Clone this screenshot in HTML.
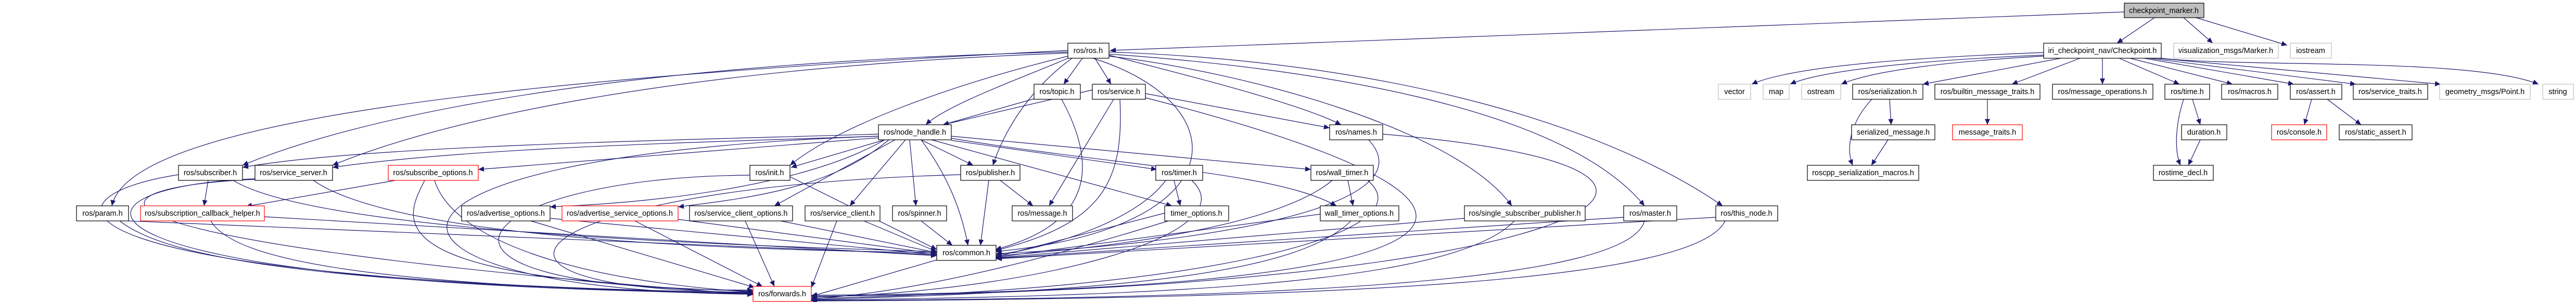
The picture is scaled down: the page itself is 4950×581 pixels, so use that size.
<!DOCTYPE html>
<html><head><meta charset="utf-8"><style>
html,body{margin:0;padding:0;background:#fff;}
svg{display:block;}
text{font-family:"Liberation Sans",sans-serif;font-size:14.5px;fill:#000;}
</style></head><body>
<svg id="g" width="4950" height="581" viewBox="0 0 4950 581" xmlns="http://www.w3.org/2000/svg">
<defs><marker id="a" markerUnits="userSpaceOnUse" markerWidth="12" markerHeight="10" refX="11" refY="5" orient="auto"><path d="M0,0 L11,5 L0,10 z" fill="#191970"/></marker></defs>
<g id="edges" fill="none" stroke="#191970" stroke-width="1.2"></g>
<g id="nodes" stroke-width="1.2">
<rect x="4082" y="6" width="153" height="28" fill="#bfbfbf" stroke="#000"/><text x="4158" y="25" text-anchor="middle">checkpoint_marker.h</text>
<rect x="3927" y="83" width="226" height="29" fill="#fff" stroke="#000"/><text x="4040" y="102" text-anchor="middle">iri_checkpoint_nav/Checkpoint.h</text>
<rect x="4177" y="83" width="201" height="29" fill="#fff" stroke="#bfbfbf"/><text x="4277" y="102" text-anchor="middle">visualization_msgs/Marker.h</text>
<rect x="4401" y="83" width="79" height="29" fill="#fff" stroke="#bfbfbf"/><text x="4440" y="102" text-anchor="middle">iostream</text>
<rect x="3302" y="162" width="62" height="29" fill="#fff" stroke="#bfbfbf"/><text x="3333" y="181" text-anchor="middle">vector</text>
<rect x="3388" y="162" width="50" height="29" fill="#fff" stroke="#bfbfbf"/><text x="3413" y="181" text-anchor="middle">map</text>
<rect x="3462" y="162" width="75" height="29" fill="#fff" stroke="#bfbfbf"/><text x="3499" y="181" text-anchor="middle">ostream</text>
<rect x="3560" y="162" width="135" height="29" fill="#fff" stroke="#000"/><text x="3627" y="181" text-anchor="middle">ros/serialization.h</text>
<rect x="3718" y="162" width="202" height="29" fill="#fff" stroke="#000"/><text x="3819" y="181" text-anchor="middle">ros/builtin_message_traits.h</text>
<rect x="3944" y="162" width="193" height="29" fill="#fff" stroke="#000"/><text x="4040" y="181" text-anchor="middle">ros/message_operations.h</text>
<rect x="4160" y="162" width="86" height="29" fill="#fff" stroke="#000"/><text x="4203" y="181" text-anchor="middle">ros/time.h</text>
<rect x="4269" y="162" width="108" height="29" fill="#fff" stroke="#000"/><text x="4323" y="181" text-anchor="middle">ros/macros.h</text>
<rect x="4401" y="162" width="99" height="29" fill="#fff" stroke="#000"/><text x="4450" y="181" text-anchor="middle">ros/assert.h</text>
<rect x="4522" y="162" width="143" height="29" fill="#fff" stroke="#000"/><text x="4593" y="181" text-anchor="middle">ros/service_traits.h</text>
<rect x="4688" y="162" width="174" height="29" fill="#fff" stroke="#bfbfbf"/><text x="4775" y="181" text-anchor="middle">geometry_msgs/Point.h</text>
<rect x="4886" y="162" width="59" height="29" fill="#fff" stroke="#bfbfbf"/><text x="4915" y="181" text-anchor="middle">string</text>
<rect x="3558" y="240" width="160" height="29" fill="#fff" stroke="#000"/><text x="3638" y="259" text-anchor="middle">serialized_message.h</text>
<rect x="3752" y="240" width="134" height="29" fill="#fff" stroke="#ff0000"/><text x="3819" y="259" text-anchor="middle">message_traits.h</text>
<rect x="4192" y="240" width="87" height="29" fill="#fff" stroke="#000"/><text x="4235" y="259" text-anchor="middle">duration.h</text>
<rect x="4365" y="240" width="106" height="29" fill="#fff" stroke="#ff0000"/><text x="4418" y="259" text-anchor="middle">ros/console.h</text>
<rect x="4495" y="240" width="140" height="29" fill="#fff" stroke="#000"/><text x="4565" y="259" text-anchor="middle">ros/static_assert.h</text>
<rect x="3473" y="318" width="214" height="29" fill="#fff" stroke="#000"/><text x="3580" y="337" text-anchor="middle">roscpp_serialization_macros.h</text>
<rect x="4138" y="318" width="115" height="29" fill="#fff" stroke="#000"/><text x="4195" y="337" text-anchor="middle">rostime_decl.h</text>
<rect x="2052" y="83" width="79" height="29" fill="#fff" stroke="#000"/><text x="2091" y="102" text-anchor="middle">ros/ros.h</text>
<rect x="1987" y="162" width="89" height="29" fill="#fff" stroke="#000"/><text x="2031" y="181" text-anchor="middle">ros/topic.h</text>
<rect x="2099" y="162" width="102" height="29" fill="#fff" stroke="#000"/><text x="2150" y="181" text-anchor="middle">ros/service.h</text>
<rect x="1688" y="240" width="140" height="29" fill="#fff" stroke="#000"/><text x="1758" y="259" text-anchor="middle">ros/node_handle.h</text>
<rect x="2555" y="240" width="102" height="29" fill="#fff" stroke="#000"/><text x="2606" y="259" text-anchor="middle">ros/names.h</text>
<rect x="343" y="318" width="123" height="29" fill="#fff" stroke="#000"/><text x="404" y="337" text-anchor="middle">ros/subscriber.h</text>
<rect x="490" y="318" width="149" height="29" fill="#fff" stroke="#000"/><text x="564" y="337" text-anchor="middle">ros/service_server.h</text>
<rect x="746" y="318" width="173" height="29" fill="#fff" stroke="#ff0000"/><text x="832" y="337" text-anchor="middle">ros/subscribe_options.h</text>
<rect x="1441" y="318" width="77" height="29" fill="#fff" stroke="#000"/><text x="1479" y="337" text-anchor="middle">ros/init.h</text>
<rect x="1846" y="318" width="114" height="29" fill="#fff" stroke="#000"/><text x="1903" y="337" text-anchor="middle">ros/publisher.h</text>
<rect x="2221" y="318" width="90" height="29" fill="#fff" stroke="#000"/><text x="2266" y="337" text-anchor="middle">ros/timer.h</text>
<rect x="2519" y="318" width="120" height="29" fill="#fff" stroke="#000"/><text x="2579" y="337" text-anchor="middle">ros/wall_timer.h</text>
<rect x="147" y="396" width="100" height="29" fill="#fff" stroke="#000"/><text x="197" y="415" text-anchor="middle">ros/param.h</text>
<rect x="270" y="396" width="238" height="29" fill="#fff" stroke="#ff0000"/><text x="389" y="415" text-anchor="middle">ros/subscription_callback_helper.h</text>
<rect x="887" y="396" width="170" height="29" fill="#fff" stroke="#000"/><text x="972" y="415" text-anchor="middle">ros/advertise_options.h</text>
<rect x="1080" y="396" width="223" height="29" fill="#fff" stroke="#ff0000"/><text x="1191" y="415" text-anchor="middle">ros/advertise_service_options.h</text>
<rect x="1325" y="396" width="198" height="29" fill="#fff" stroke="#000"/><text x="1424" y="415" text-anchor="middle">ros/service_client_options.h</text>
<rect x="1547" y="396" width="144" height="29" fill="#fff" stroke="#000"/><text x="1619" y="415" text-anchor="middle">ros/service_client.h</text>
<rect x="1715" y="396" width="104" height="29" fill="#fff" stroke="#000"/><text x="1767" y="415" text-anchor="middle">ros/spinner.h</text>
<rect x="1945" y="396" width="116" height="29" fill="#fff" stroke="#000"/><text x="2003" y="415" text-anchor="middle">ros/message.h</text>
<rect x="2238" y="396" width="123" height="29" fill="#fff" stroke="#000"/><text x="2299" y="415" text-anchor="middle">timer_options.h</text>
<rect x="2537" y="396" width="151" height="29" fill="#fff" stroke="#000"/><text x="2612" y="415" text-anchor="middle">wall_timer_options.h</text>
<rect x="2814" y="396" width="232" height="29" fill="#fff" stroke="#000"/><text x="2930" y="415" text-anchor="middle">ros/single_subscriber_publisher.h</text>
<rect x="3120" y="396" width="102" height="29" fill="#fff" stroke="#000"/><text x="3171" y="415" text-anchor="middle">ros/master.h</text>
<rect x="3297" y="396" width="119" height="29" fill="#fff" stroke="#000"/><text x="3356" y="415" text-anchor="middle">ros/this_node.h</text>
<rect x="1800" y="472" width="114" height="29" fill="#fff" stroke="#000"/><text x="1857" y="491" text-anchor="middle">ros/common.h</text>
<rect x="1447" y="551" width="112" height="29" fill="#fff" stroke="#ff0000"/><text x="1503" y="570" text-anchor="middle">ros/forwards.h</text>
</g>
</svg>
<script>
var E=[
[4140,34,4068,83],[4196,34,4252,83],[4220,34,4395,87],[4082,23,2133,97],
[3927,101,3366,162,3700,110,3450,125],[3927,106,3440,162,3700,115,3500,135],[3927,108,3538,162,3750,118,3600,135],
[3960,112,3695,162],[3997,112,3866,162],[4040,112,4040,162],[4072,112,4188,162],[4093,112,4290,162],[4120,112,4408,162],[4130,112,4527,162],[4145,112,4690,162],[4153,112,4878,162,4300,130,4750,110],
[3631,191,3634,240],[3597,191,3560,318,3560,230,3545,280],[3628,269,3596,318],[3819,191,3819,240],
[4213,191,4228,240],[4196,191,4190,318,4180,240,4178,290],[4228,269,4205,318],[4442,191,4428,240],[4472,191,4537,240],
[2080,112,2044,162],[2104,112,2135,162],[2052,112,1779,240,1990,140,1820,200],[2131,106,2577,240,2300,150,2500,200],
[2060,112,1908,318,1980,170,1930,250],[2052,100,466,318,1200,120,700,220],[2052,102,639,318,1300,130,850,230],
[2052,108,1518,318,1800,170,1600,250],[2052,97,215,396,1000,150,250,230],[2131,108,2905,396,2400,140,2800,250],
[2131,104,3160,396,2500,130,3000,200],[2131,100,3310,396,2700,120,3100,250],[2100,112,1913,484,2380,200,2380,440],
[2099,173,1812,240],[2201,180,2555,246],[2140,191,2016,396],[2152,191,1913,482,2160,350,2120,430],
[2201,188,1559,568,3100,420,2800,560],
[1987,190,1812,240],[2040,191,1913,480,2110,320,2100,430],
[1688,258,466,322,1300,270,700,280],[1688,262,639,322,1300,275,900,285],[1688,265,919,326],[1700,269,1520,322],
[1700,269,1057,398,1560,350,1300,388],[1708,269,1303,398,1600,360,1450,380],[1720,269,1488,396],[1740,269,1633,396],
[1748,269,1760,396],[1770,269,1870,318],[1828,270,2223,326],[1828,262,2519,326],[1790,269,2252,396],
[1828,266,2568,396,2150,320,2450,330],[1770,269,1860,472,1830,350,1850,420],[1688,262,1447,566,600,300,650,560],
[2630,269,1914,488,2750,400,2300,470],[2657,258,1559,570,3500,330,3000,560],
[1922,347,1985,396],[1900,347,1884,472],[1846,336,1447,562,1000,360,800,560],
[2256,347,2268,396],[2240,347,1914,490,2180,430,2000,480],[2290,347,1559,572,2400,450,2000,560],
[2590,347,2600,396],[2560,347,1914,492,2450,440,2100,480],[2628,347,1559,574,2750,450,2300,560],
[2238,410,1914,494],[2245,425,1559,575,2100,470,1800,560],[2537,412,1914,495],[2596,425,1559,576,2500,520,2200,560],
[2814,420,1914,496],[2910,425,1559,577,2800,540,2300,570],[3120,418,1914,497],[3160,425,1559,578,3130,540,2500,575],
[3297,418,1914,498],[3315,425,1559,579,3260,540,2600,575],[1770,425,1830,472],
[1660,425,1800,484],[1608,425,1559,553],[1500,425,1800,486],[1432,425,1488,551],[1303,422,1800,488],[1220,425,1465,551],
[1057,420,1800,490],[1020,425,1450,553],[1518,340,1800,480],[1441,337,1447,558,900,340,700,560],
[760,347,473,397],[816,347,1447,560,780,420,700,540],[835,347,1447,562,870,460,1100,540],
[400,347,392,396],[448,347,1800,484,600,440,1300,470],[343,336,1447,563,60,380,60,540],
[602,347,1800,486,750,450,1300,480],[490,344,1447,564,80,360,80,550],
[247,425,1800,490],[230,425,1447,565,350,520,800,550],[508,417,1800,492],[405,425,1447,566,450,500,700,550],
[1800,500,1559,570],[490,345,1447,567,150,360,60,460]
];
var g=document.getElementById('edges'),s='';
E.forEach(function(e){var d;
if(e.length>4)d='M'+e[0]+','+e[1]+' C'+e[4]+','+e[5]+' '+e[6]+','+e[7]+' '+e[2]+','+e[3];
else d='M'+e[0]+','+e[1]+' L'+e[2]+','+e[3];
s+='<path d="'+d+'" marker-end="url(#a)"/>';});
g.innerHTML=s;
</script>
</body></html>
